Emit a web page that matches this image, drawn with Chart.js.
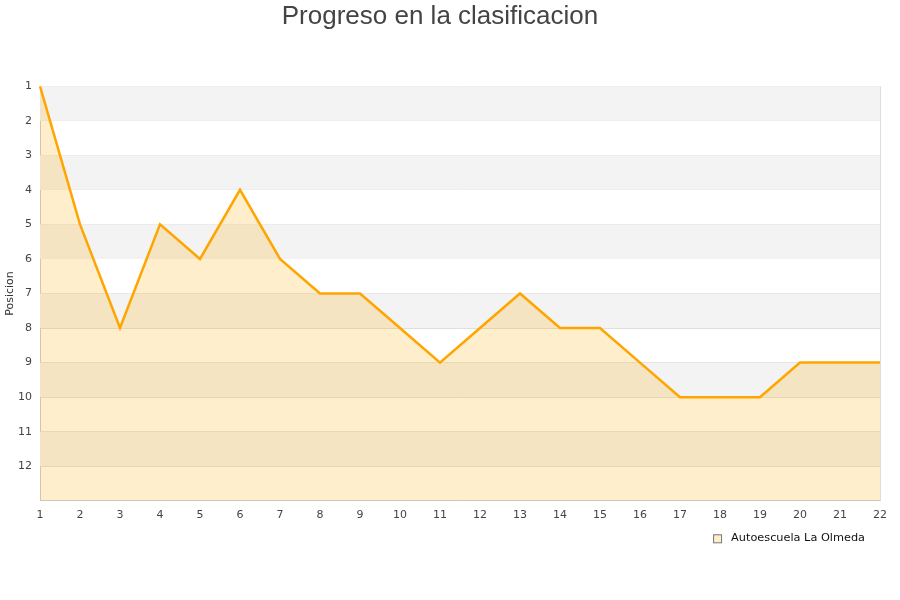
<!DOCTYPE html>
<html>
<head>
<meta charset="utf-8">
<script src="https://cdn.jsdelivr.net/npm/chart.js@4/dist/chart.umd.min.js"></script>
<style>
html,body{margin:0;padding:0;background:#fff;}
#wrap{width:900px;height:600px;position:relative;}
</style>
</head>
<body>
<div id="wrap"><canvas id="c" width="900" height="600"></canvas></div>
<script>
const jornadas = [1,2,3,4,5,6,7,8,9,10,11,12,13,14,15,16,17,18,19,20,21,22];
const posiciones = [1,5,8,5,6,4,6,7,7,8,9,8,7,8,8,9,10,10,10,9,9,9];
const serieNombre = 'Autoescuela La Olmeda';
const tituloTexto = 'Progreso en la clasificacion';
const ejeY = 'Posicion';

const FILL = 'rgba(255,170,0,0.2)';

const bandPlugin = {
  id: 'bands',
  beforeDatasetsDraw(chart) {
    const {ctx, chartArea, scales} = chart;
    const y = scales.y;
    ctx.save();
    ctx.fillStyle = '#f3f3f3';
    for (let v = 1; v < 13; v += 2) {
      const p1 = y.getPixelForValue(v);
      const p2 = y.getPixelForValue(v + 1);
      ctx.fillRect(chartArea.left, Math.min(p1,p2), chartArea.right - chartArea.left, Math.abs(p2 - p1));
    }
    ctx.strokeStyle = '#ddd';
    ctx.lineWidth = 1;
    ctx.beginPath();
    ctx.moveTo(Math.round(chartArea.right) + 0.5, chartArea.top);
    ctx.lineTo(Math.round(chartArea.right) + 0.5, chartArea.bottom);
    ctx.stroke();
    ctx.restore();
  }
};

const legendPlugin = {
  id: 'customLegend',
  afterDraw(chart) {
    const {ctx, chartArea} = chart;
    const ds = chart.data.datasets[0];
    ctx.save();
    ctx.font = '11.3px "DejaVu Sans"';
    ctx.textBaseline = 'middle';
    ctx.textAlign = 'right';
    const tw = ctx.measureText(ds.label).width;
    const xr = chartArea.right - 15;
    const yc = chartArea.bottom + 37.5;
    ctx.fillStyle = '#111';
    ctx.fillText(ds.label, xr, yc);
    const bx = xr - tw - 18;
    ctx.fillStyle = FILL;
    ctx.fillRect(bx, yc - 4, 8, 8);
    ctx.strokeStyle = '#777';
    ctx.lineWidth = 1;
    ctx.strokeRect(bx + 0.5, yc - 3.5, 8, 8);
    ctx.restore();
  }
};

new Chart(document.getElementById('c'), {
  type: 'line',
  data: {
    labels: jornadas,
    datasets: [{
      label: serieNombre,
      data: posiciones,
      borderColor: '#FFA500',
      backgroundColor: FILL,
      borderWidth: 2.5,
      fill: { value: 13 },
      pointRadius: 0,
      tension: 0
    }]
  },
  options: {
    responsive: false,
    animation: false,
    layout: { padding: { left: 0, right: 20, top: 1, bottom: 70 } },
    plugins: {
      title: {
        display: true,
        text: tituloTexto,
        color: '#444',
        font: { family: 'Liberation Sans', size: 26, weight: 'normal' },
        padding: { top: 0, bottom: 54 }
      },
      legend: { display: false },
      tooltip: { enabled: false }
    },
    scales: {
      x: {
        offset: false,
        grid: { display: false, drawTicks: false },
        border: { display: true, color: '#ccc' },
        ticks: { color: '#444', font: { family: 'DejaVu Sans', size: 11 }, padding: 8, maxRotation: 0, autoSkip: false }
      },
      y: {
        reverse: true,
        min: 1,
        max: 13,
        afterFit(scale) { scale.width = 40; },
        grid: { color: '#ddd', drawTicks: false },
        border: { display: true, color: '#ccc' },
        title: { display: true, text: ejeY, color: '#333', font: { family: 'DejaVu Sans', size: 11 }, padding: { top: 4, bottom: 0 } },
        ticks: {
          stepSize: 1,
          color: '#444',
          font: { family: 'DejaVu Sans', size: 11 },
          padding: 8,
          callback: v => (v === 13 ? '' : v)
        }
      }
    }
  },
  plugins: [bandPlugin, legendPlugin]
});
</script>
</body>
</html>
